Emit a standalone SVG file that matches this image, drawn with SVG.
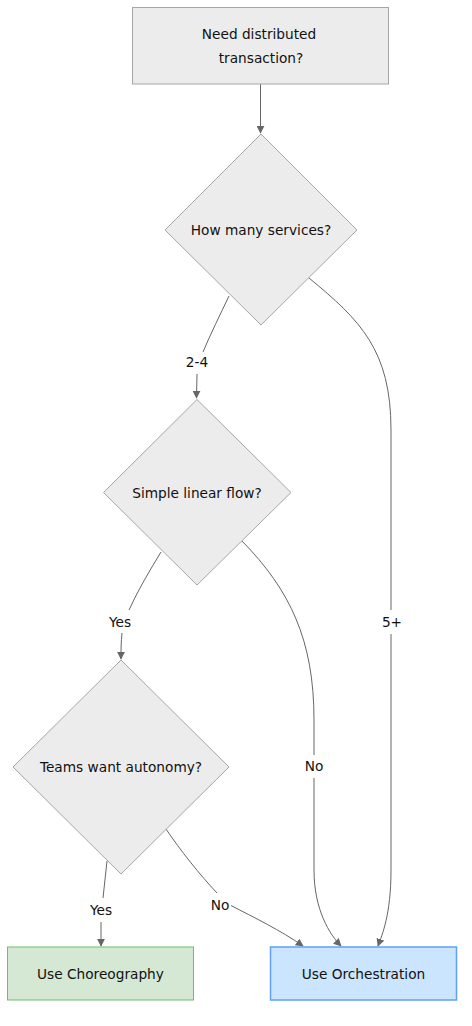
<svg xmlns="http://www.w3.org/2000/svg" width="472" height="1026" viewBox="0 0 472 1026">
<defs>
<marker id="arr" viewBox="0 0 10 10" refX="9" refY="5" markerWidth="8" markerHeight="8" markerUnits="userSpaceOnUse" orient="auto">
<path d="M0,0 L10,5 L0,10 z" fill="#666"/>
</marker>
<style>
.n{fill:#ececec;stroke:#a6a6a6;stroke-width:1}
.t{font-family:"DejaVu Sans",Verdana,sans-serif;font-size:13.7px;fill:#111;text-anchor:middle;dominant-baseline:central}
.e{fill:none;stroke:#666;stroke-width:1}
.ea{fill:none;stroke:#666;stroke-width:1;marker-end:url(#arr)}
.lb{fill:#fff}
</style>
</defs>
<rect width="472" height="1026" fill="#fff"/>
<g id="connectors">
<path class="ea" d="M260.5,84 L260.5,133"/>
<path class="e" d="M229,296 C220,315 210,335 203,352"/>
<path class="ea" d="M197,374 C197,382 196.5,390 196.5,398"/>
<path class="e" d="M309,278 C360,320 391,350 391,430 L391,610"/>
<path class="ea" d="M391,634 L391,870 C391,915 382,935 378,946"/>
<path class="e" d="M242,541 C290,590 314,640 314,720 L314,755"/>
<path class="ea" d="M314,778 L314,870 C314,910 330,935 341,946"/>
<path class="e" d="M161,552 C150,570 138,590 129,610"/>
<path class="ea" d="M122,633 C121,642 121,650 121,659"/>
<path class="e" d="M107,861 L103,898"/>
<path class="ea" d="M101,922 L101,946"/>
<path class="e" d="M166,829 C180,850 200,875 217,893"/>
<path class="ea" d="M230,905 C255,918 280,930 303,946"/>
</g>
<g id="edge-labels">
<rect class="lb" x="183" y="352" width="28" height="20"/>
<text class="t" x="197" y="362">2-4</text>
<rect class="lb" x="380" y="612" width="22" height="20"/>
<text class="t" x="392" y="622">5+</text>
<rect class="lb" x="303" y="756" width="22" height="20"/>
<text class="t" x="314" y="766">No</text>
<rect class="lb" x="106" y="612" width="28" height="20"/>
<text class="t" x="120" y="622">Yes</text>
<rect class="lb" x="87" y="900" width="28" height="20"/>
<text class="t" x="101" y="910">Yes</text>
<rect class="lb" x="209" y="895" width="22" height="20"/>
<text class="t" x="220" y="905">No</text>
</g>
<g id="start">
<rect class="n" x="132.5" y="7.5" width="256" height="76.5"/>
<text class="t" x="259" y="34">Need distributed</text>
<text class="t" x="261" y="58">transaction?</text>
</g>
<g id="services">
<polygon class="n" points="261,134 357,230 261,325 165,230"/>
<text class="t" x="261" y="230">How many services?</text>
</g>
<g id="linear">
<polygon class="n" points="197,399.5 291,492.5 197,585 103.5,492.5"/>
<text class="t" x="197" y="492.5">Simple linear flow?</text>
</g>
<g id="autonomy">
<polygon class="n" points="121,660 229,767 121,874 13,767"/>
<text class="t" x="121" y="767">Teams want autonomy?</text>
</g>
<g id="choreography">
<rect x="7.5" y="947" width="186" height="53" fill="#d5e8d4" stroke="#6cbf6c" stroke-width="1"/>
<text class="t" x="100.5" y="973.5">Use Choreography</text>
</g>
<g id="orchestration">
<rect x="270.5" y="947" width="186" height="53" fill="#cce5ff" stroke="#5fa1f7" stroke-width="1.5"/>
<text class="t" x="363.5" y="973.5">Use Orchestration</text>
</g>
</svg>
